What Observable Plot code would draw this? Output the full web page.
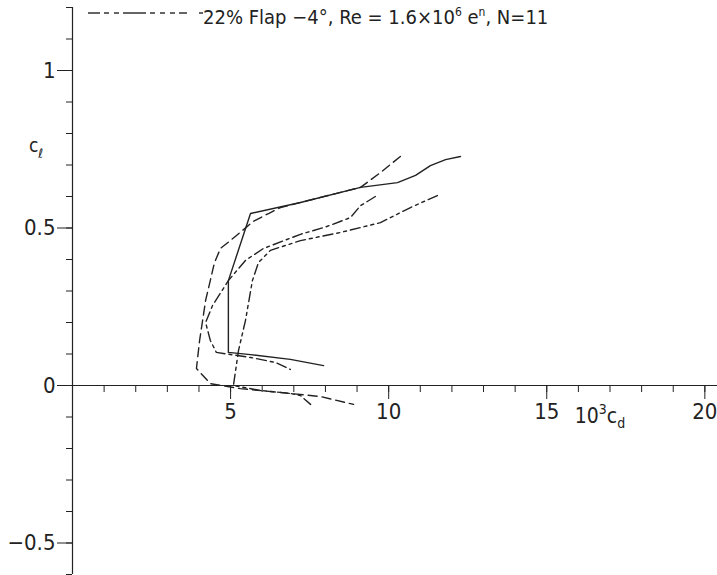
<!DOCTYPE html>
<html>
<head>
<meta charset="utf-8">
<script src="https://cdn.jsdelivr.net/npm/d3@7"></script>
<script src="https://cdn.jsdelivr.net/npm/@observablehq/plot@0.6"></script>
<style>
  html, body { margin: 0; padding: 0; background: #fff; }
  #wrap { position: relative; width: 717px; height: 575px; overflow: hidden; }
  #legend { position: absolute; left: 88px; top: 1px; height: 22px; white-space: nowrap;
            font-family: "DejaVu Sans Condensed", "DejaVu Sans", sans-serif; font-stretch: condensed;
            font-size: 20px; line-height: 22px; color: #222; }
  #legend svg { position: absolute; left: 0; top: 10px; }
  #legend span { position: absolute; left: 115px; top: 0; }
  svg text { font-family: "DejaVu Sans Condensed", "DejaVu Sans", sans-serif; font-stretch: condensed; }
</style>
</head>
<body>
<div id="wrap">
  <div id="chart"></div>
  <div id="legend">
    <svg width="115" height="4"><line x1="0" y1="2" x2="115" y2="2" stroke="#333" stroke-width="1.5" stroke-dasharray="12,4,5,5,5,4,23,4,5,5,5,5,5,4,8"/></svg>
    <span>22% Flap −4°, Re = 1.6×10<sup style="font-size:60%">6</sup> e<sup style="font-size:60%">n</sup>, N=11</span>
  </div>
</div>
<script>
// Drag polars: 10^3·cd against cl, one trace per line style
const solidCd = [7.94, 6.89, 5.63, 4.93, 4.93, 5.63, 7.21, 9.11, 10.28, 10.85, 11.32, 11.80, 12.27];
const solidCl = [0.063, 0.083, 0.098, 0.105, 0.333, 0.546, 0.581, 0.629, 0.644, 0.667, 0.698, 0.717, 0.727];

const dashCd = [10.37, 9.74, 9.11, 7.84, 6.58, 6.20, 5.72, 5.15, 4.68, 4.49, 4.21, 4.02, 3.92, 4.36, 5.31, 6.58, 7.84, 8.89];
const dashCl = [0.727, 0.676, 0.629, 0.597, 0.565, 0.546, 0.521, 0.473, 0.435, 0.390, 0.270, 0.143, 0.054, 0.006, -0.010, -0.022, -0.035, -0.060];

const dashDotCd = [9.58, 9.11, 8.79, 8.00, 7.21, 6.04, 5.47, 4.93, 4.43, 4.21, 4.36, 4.55, 5.63, 6.42, 6.89];
const dashDotCl = [0.600, 0.571, 0.533, 0.503, 0.480, 0.435, 0.397, 0.333, 0.254, 0.200, 0.143, 0.105, 0.089, 0.073, 0.051];

const dashDotDotCd = [11.54, 10.69, 9.74, 8.48, 7.21, 6.26, 5.88, 5.69, 5.47, 5.25, 5.09, 5.95, 6.89, 7.21, 7.53];
const dashDotDotCl = [0.603, 0.565, 0.517, 0.486, 0.460, 0.429, 0.390, 0.333, 0.206, 0.111, 0.000, -0.016, -0.025, -0.032, -0.060];

// Axis ticks and labels
const xMajor = [5, 10, 15, 20];
const xMinor = d3.range(1, 21);
const yMajor = [-0.5, 0, 0.5, 1];
const yMinor = d3.range(-6, 13).map(k => k / 10);
const xTickLabels = ["5", "10", "15", "20"];
const yTickLabels = ["−0.5", "0", "0.5", "1"];

const xDomain = [0, 20.4];
const yDomain = [-0.6, 1.2];

const series = (cd, cl) => cd.map((v, i) => ({cd: v, cl: cl[i]}));
const ink = "#222";

const chart = Plot.plot({
  width: 717,
  height: 575,
  marginLeft: 72,
  marginRight: 0,
  marginTop: 7,
  marginBottom: 1,
  x: {domain: xDomain, axis: null},
  y: {domain: yDomain, axis: null},
  marks: [
    // axis lines through the origin
    Plot.ruleX([0], {y1: yDomain[0], y2: yDomain[1], stroke: ink, strokeWidth: 1.2}),
    Plot.ruleY([0], {x1: xDomain[0], x2: xDomain[1], stroke: ink, strokeWidth: 1.2}),
    // x ticks hang below the axis
    Plot.ruleX(xMinor, {x: d => d, y1: 0, y2: 0, insetBottom: -7, stroke: ink}),
    Plot.ruleX(xMajor, {x: d => d, y1: 0, y2: 0, insetBottom: -14, stroke: ink}),
    // y ticks point left
    Plot.ruleY(yMinor, {y: d => d, x1: 0, x2: 0, insetLeft: -6, stroke: ink}),
    Plot.ruleY(yMajor, {y: d => d, x1: 0, x2: 0, insetLeft: -15, stroke: ink}),
    Plot.text(xMajor, {x: d => d, y: 0, text: (d, i) => xTickLabels[i], dy: 26, fontSize: 22, fill: ink}),
    Plot.text(yMajor, {x: 0, y: d => d, text: (d, i) => yTickLabels[i], textAnchor: "end", dx: -17, fontSize: 22, fill: ink}),
    // polars
    Plot.line(series(solidCd, solidCl), {x: "cd", y: "cl", stroke: ink, strokeWidth: 1.4}),
    Plot.line(series(dashCd, dashCl), {x: "cd", y: "cl", stroke: ink, strokeWidth: 1.4, strokeDasharray: "9,5"}),
    Plot.line(series(dashDotCd, dashDotCl), {x: "cd", y: "cl", stroke: ink, strokeWidth: 1.4, strokeDasharray: "10,4,3,4"}),
    Plot.line(series(dashDotDotCd, dashDotDotCl), {x: "cd", y: "cl", stroke: ink, strokeWidth: 1.4, strokeDasharray: "10,4,3,4,3,4"})
  ]
});

// axis titles: c_ℓ beside the y axis, 10³c_d beside the x axis
const svg = d3.select(chart);
const xs = chart.scale("x"), ys = chart.scale("y");
const ylab = svg.append("text")
  .attr("x", xs.apply(0) - 36).attr("y", ys.apply(0.74))
  .attr("font-size", 19).attr("fill", ink);
ylab.append("tspan").text("c");
ylab.append("tspan").attr("font-size", 13).attr("dy", 6).text("ℓ");
const xlab = svg.append("text")
  .attr("x", xs.apply(16.7)).attr("y", ys.apply(0) + 38)
  .attr("font-size", 21).attr("fill", ink);
xlab.append("tspan").text("10");
xlab.append("tspan").attr("font-size", 14).attr("dy", -9).text("3");
xlab.append("tspan").attr("dy", 9).text("c");
xlab.append("tspan").attr("font-size", 14).attr("dy", 5).text("d");

document.getElementById("chart").appendChild(chart);
</script>
</body>
</html>
